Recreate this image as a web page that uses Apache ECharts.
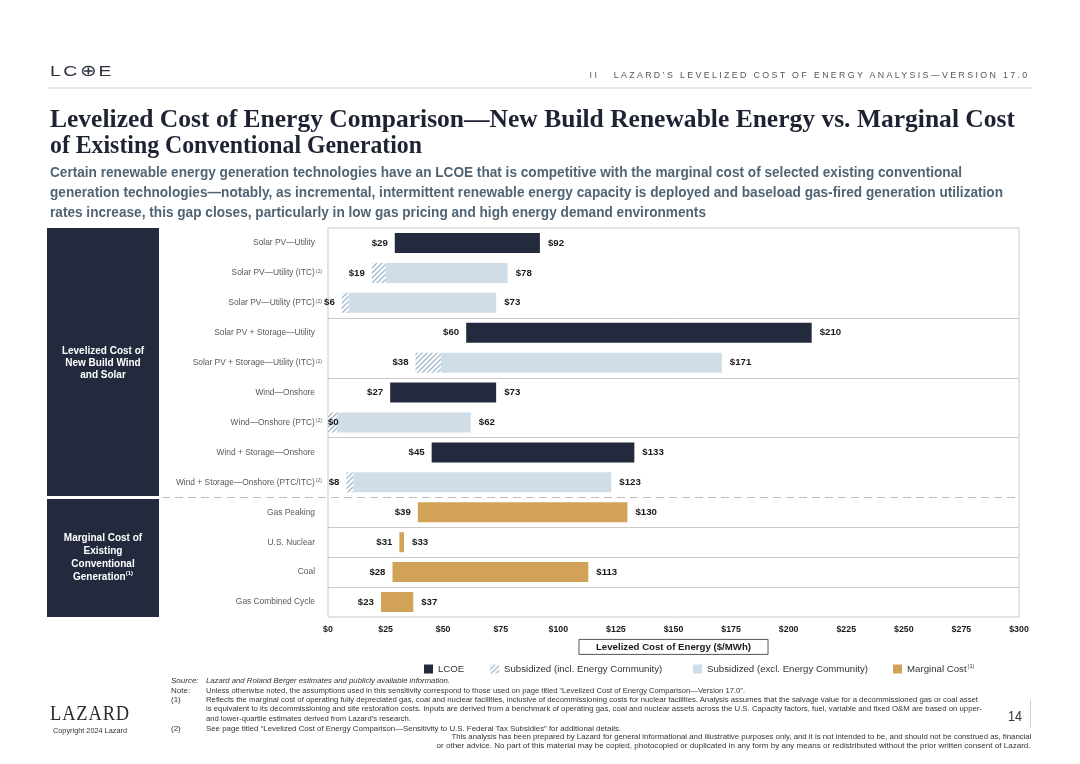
<!DOCTYPE html>
<html>
<head>
<meta charset="utf-8">
<script src="https://cdn.jsdelivr.net/npm/echarts@6.0.0/dist/echarts.min.js"></script>
<style>
  html, body { margin:0; padding:0; background:#fff; }
  body { width:1080px; height:764px; position:relative; overflow:hidden; }
  #chart { position:absolute; left:0; top:0; width:1080px; height:764px; }
  .t { position:absolute; white-space:nowrap; display:inline-block; line-height:1; transform-origin:left center; }
  .r { transform-origin:right center; }
  .sans { font-family:"Liberation Sans", Arial, sans-serif; }
  .serif { font-family:"Liberation Serif", "Times New Roman", serif; }
</style>
</head>
<body>
<div id="chart"></div>

<!-- header -->
<div class="t sans" data-w="64" data-b="76" data-f="15.5" style="left:50px;font-weight:300;letter-spacing:2px;color:#2d3240;">LC⊕E</div>
<div class="t sans r" data-w="440" data-b="78.5" data-f="9" style="right:50px;letter-spacing:2.4px;color:#555;">II&nbsp;&nbsp;&nbsp;LAZARD’S LEVELIZED COST OF ENERGY ANALYSIS—VERSION 17.0</div>
<div style="position:absolute;left:48px;top:87px;width:984px;height:2px;background:#e6e6e6;"></div>

<!-- title -->
<div class="t serif" data-w="965" data-b="128" data-f="26" style="left:50px;font-weight:bold;color:#1e2333;">Levelized Cost of Energy Comparison—New Build Renewable Energy vs. Marginal Cost</div>
<div class="t serif" data-w="372" data-b="154" data-f="26" style="left:50px;font-weight:bold;color:#1e2333;">of Existing Conventional Generation</div>

<!-- subtitle -->
<div class="t sans" data-w="912" data-b="177.3" data-f="14.8" style="left:50px;font-weight:bold;color:#506474;">Certain renewable energy generation technologies have an LCOE that is competitive with the marginal cost of selected existing conventional</div>
<div class="t sans" data-w="953" data-b="197.3" data-f="14.8" style="left:50px;font-weight:bold;color:#506474;">generation technologies—notably, as incremental, intermittent renewable energy capacity is deployed and baseload gas-fired generation utilization</div>
<div class="t sans" data-w="656" data-b="217.3" data-f="14.8" style="left:50px;font-weight:bold;color:#506474;">rates increase, this gap closes, particularly in low gas pricing and high energy demand environments</div>

<!-- footnotes -->
<div class="t sans" data-b="684" data-f="8" style="left:171px;font-style:italic;color:#333;">Source:</div>
<div class="t sans" data-w="244" data-b="684" data-f="8" style="left:206px;font-style:italic;color:#333;">Lazard and Roland Berger estimates and publicly available information.</div>
<div class="t sans" data-b="693.5" data-f="8" style="left:171px;color:#333;">Note:</div>
<div class="t sans" data-w="539" data-b="693.5" data-f="8" style="left:206px;color:#333;">Unless otherwise noted, the assumptions used in this sensitivity correspond to those used on page titled “Levelized Cost of Energy Comparison—Version 17.0”.</div>
<div class="t sans" data-b="702.5" data-f="8" style="left:171px;color:#333;">(1)</div>
<div class="t sans" data-w="772" data-b="702.5" data-f="8" style="left:206px;color:#333;">Reflects the marginal cost of operating fully depreciated gas, coal and nuclear facilities, inclusive of decommissioning costs for nuclear facilities. Analysis assumes that the salvage value for a decommissioned gas or coal asset</div>
<div class="t sans" data-w="776" data-b="712" data-f="8" style="left:206px;color:#333;">is equivalent to its decommissioning and site restoration costs. Inputs are derived from a benchmark of operating gas, coal and nuclear assets across the U.S. Capacity factors, fuel, variable and fixed O&amp;M are based on upper-</div>
<div class="t sans" data-w="205" data-b="721.5" data-f="8" style="left:206px;color:#333;">and lower-quartile estimates derived from Lazard’s research.</div>
<div class="t sans" data-b="731.5" data-f="8" style="left:171px;color:#333;">(2)</div>
<div class="t sans" data-w="415" data-b="731.5" data-f="8" style="left:206px;color:#333;">See page titled “Levelized Cost of Energy Comparison—Sensitivity to U.S. Federal Tax Subsidies” for additional details.</div>
<div class="t sans r" data-w="580" data-b="739.5" data-f="8" style="right:49px;color:#333;">This analysis has been prepared by Lazard for general informational and illustrative purposes only, and it is not intended to be, and should not be construed as, financial</div>
<div class="t sans r" data-w="594" data-b="749" data-f="8" style="right:49px;color:#333;">or other advice. No part of this material may be copied, photocopied or duplicated in any form by any means or redistributed without the prior written consent of Lazard.</div>

<!-- footer logo, page -->
<div class="t serif" data-w="80" data-b="720" data-f="22" style="left:50px;letter-spacing:1px;color:#2b2b2b;">LAZARD</div>
<div class="t sans" data-w="74" data-b="734" data-f="8" style="left:53px;color:#333;">Copyright 2024 Lazard</div>
<div class="t sans" data-w="14" data-b="721" data-f="14" style="left:1008px;color:#333;">14</div>
<div style="position:absolute;left:1030px;top:700px;width:1px;height:28px;background:#d0d0d0;"></div>

<script>
// ---------------- data ----------------
const categories = [
  'Solar PV—Utility',
  'Solar PV—Utility (ITC)',
  'Solar PV—Utility (PTC)',
  'Solar PV + Storage—Utility',
  'Solar PV + Storage—Utility (ITC)',
  'Wind—Onshore',
  'Wind—Onshore (PTC)',
  'Wind + Storage—Onshore',
  'Wind + Storage—Onshore (PTC/ITC)',
  'Gas Peaking',
  'U.S. Nuclear',
  'Coal',
  'Gas Combined Cycle'
];
const noteRefs = ['', '(2)', '(2)', '', '(2)', '', '(2)', '', '(2)', '', '', '', ''];
const rowKind = ['lcoe', 'sub', 'sub', 'lcoe', 'sub', 'lcoe', 'sub', 'lcoe', 'sub', 'mc', 'mc', 'mc', 'mc'];
// low end (LCOE low / subsidized incl. energy community low / marginal cost low)
const lowValues = [29, 19, 6, 60, 38, 27, 0, 45, 8, 39, 31, 28, 23];
// low end of subsidized (excl. energy community) range
const exclLowValues = [null, 25, 9, null, 49, null, 4, null, 11, null, null, null, null];
// high end
const highValues = [92, 78, 73, 210, 171, 73, 62, 133, 123, 130, 33, 113, 37];
const seriesNames = ['LCOE', 'Subsidized (incl. Energy Community)', 'Subsidized (excl. Energy Community)', 'Marginal Cost'];
const groupLabels = ['Levelized Cost of\nNew Build Wind\nand Solar', 'Marginal Cost of\nExisting\nConventional\n{g|Generation}{s|(1)}'];
const axisTitle = 'Levelized Cost of Energy ($/MWh)';
const xMin = 0, xMax = 300, xStep = 25;

(function () {
// ---------------- fonts ----------------
function hasFont(name) {
  const c = document.createElement('canvas').getContext('2d');
  const s = 'abcdefghijklmnopqrstuvwxyz0123456789$';
  c.font = '40px monospace';
  const a = c.measureText(s).width;
  c.font = '40px "' + name + '", monospace';
  return c.measureText(s).width !== a;
}
const NARROW = hasFont('Liberation Sans Narrow');
const NF = NARROW ? '"Liberation Sans Narrow", "Liberation Sans", Arial, sans-serif' : '"Liberation Sans", Arial, sans-serif';
const nk = NARROW ? 1 : 0.84;
const SF = '"Liberation Sans", Arial, sans-serif';

// ---------------- HTML text layout ----------------
document.querySelectorAll('.t').forEach(el => {
  const f = +el.dataset.f, b = +el.dataset.b;
  const serif = el.classList.contains('serif');
  el.style.fontSize = f + 'px';
  el.style.top = (b - (serif ? 0.8375 : 0.8465) * f) + 'px';
});
document.querySelectorAll('[data-w]').forEach(el => {
  const w = +el.dataset.w;
  const a = el.getBoundingClientRect().width;
  if (a > 0) el.style.transform = 'scaleX(' + (w / a) + ')';
});

// ---------------- derived series ----------------
const lcoeData = rowKind.map((k, i) => k === 'lcoe' ? highValues[i] - lowValues[i] : '-');
const hatchData = rowKind.map((k, i) => k === 'sub' ? exclLowValues[i] - lowValues[i] : '-');
const lightData = rowKind.map((k, i) => k === 'sub' ? highValues[i] - exclLowValues[i] : '-');
const mcData = rowKind.map((k, i) => k === 'mc' ? highValues[i] - lowValues[i] : '-');

// hatch pattern
const pc = document.createElement('canvas');
pc.width = 5; pc.height = 5;
const g = pc.getContext('2d');
g.fillStyle = '#ffffff'; g.fillRect(0, 0, 5, 5);
g.strokeStyle = '#a3b9cb'; g.lineWidth = 1.3;
g.beginPath();
g.moveTo(0, 5); g.lineTo(5, 0);
g.moveTo(-1, 1); g.lineTo(1, -1);
g.moveTo(4, 6); g.lineTo(6, 4);
g.stroke();
const hatchFill = { image: pc, repeat: 'repeat' };

const C_DARK = '#232a3e', C_LIGHT = '#cfdde8', C_GOLD = '#d1a257';

const valueLabel = { show: true, fontFamily: NF, fontWeight: 'bold', fontSize: 11.5 * nk, color: '#1a1a1a' };
const rightLabel = Object.assign({}, valueLabel, { position: 'right', distance: 8, formatter: p => '$' + highValues[p.dataIndex] });

const chart = echarts.init(document.getElementById('chart'), null, { renderer: 'canvas' });

const legendLeft = [419, 485, 688, 888];
const legendText = { fontFamily: NF, fontSize: 11.5 * nk, color: '#333',
  rich: { a: { fontFamily: NF, fontSize: 11.5 * nk, color: '#333' }, s: { fontFamily: NF, fontSize: 6.5 * nk, color: '#333', verticalAlign: 'top', padding: [0, 0, 0, 1] } } };

const option = {
  animation: false,
  grid: { left: 328, right: 61, top: 228, bottom: 147, show: true, borderColor: '#c9c9c9', borderWidth: 1, containLabel: false },
  xAxis: {
    type: 'value', min: xMin, max: xMax, interval: xStep,
    axisLine: { show: false }, axisTick: { show: false }, splitLine: { show: false },
    axisLabel: { formatter: v => '$' + v, fontFamily: NF, fontWeight: 'bold', fontSize: 10.5 * nk, color: '#1a1a1a', margin: 8 },
    name: axisTitle, nameLocation: 'middle', nameGap: 22,
    nameTextStyle: { fontFamily: NF, fontWeight: 'bold', fontSize: 11.5 * nk, color: '#1a1a1a', borderColor: '#555', borderWidth: 1, padding: [3, 17, 2, 17], verticalAlign: 'top' }
  },
  yAxis: {
    type: 'category', data: categories, inverse: true,
    axisLine: { show: false }, axisTick: { show: false }, splitLine: { show: false },
    axisLabel: {
      margin: 6,
      formatter: (v, i) => noteRefs[i] ? '{n|' + v + '}{s|' + noteRefs[i] + '}' : '{p|' + v + '}',
      rich: {
        n: { fontFamily: NF, fontSize: 10 * nk, color: '#595959' },
        p: { fontFamily: NF, fontSize: 10 * nk, color: '#595959', padding: [0, 7, 0, 0] },
        s: { fontFamily: NF, fontSize: 6 * nk, color: '#595959', verticalAlign: 'top', padding: [0, 0, 0, 1] }
      }
    }
  },
  legend: seriesNames.map((n, i) => ({
    data: [n], left: legendLeft[i], top: 659, itemWidth: 9, itemHeight: 9, icon: 'rect', itemGap: 0,
    selectedMode: false, textStyle: legendText,
    formatter: nm => nm === 'Marginal Cost' ? '{a|Marginal Cost}{s|(1)}' : nm
  })),
  series: [
    { name: '_base', type: 'bar', stack: 't', barWidth: 20, silent: true, legendHoverLink: false,
      itemStyle: { color: 'rgba(0,0,0,0)' }, emphasis: { disabled: true },
      label: Object.assign({}, valueLabel, { position: 'insideRight', distance: 7, formatter: p => '$' + lowValues[p.dataIndex] }),
      data: lowValues.map(v => v === 0 ? { value: v, label: { position: 'insideLeft', distance: 0 } } : v) },
    { name: seriesNames[0], type: 'bar', stack: 't', barWidth: 20, itemStyle: { color: C_DARK }, label: rightLabel, data: lcoeData },
    { name: seriesNames[1], type: 'bar', stack: 't', barWidth: 20, itemStyle: { color: hatchFill }, data: hatchData },
    { name: seriesNames[2], type: 'bar', stack: 't', barWidth: 20, itemStyle: { color: C_LIGHT }, label: rightLabel, data: lightData },
    { name: seriesNames[3], type: 'bar', stack: 't', barWidth: 20, itemStyle: { color: C_GOLD }, label: rightLabel, data: mcData }
  ]
};
chart.setOption(option);

// ---------------- group separators & side panels ----------------
const py = i => chart.convertToPixel({ yAxisIndex: 0 }, categories[i]);
const px = v => chart.convertToPixel({ xAxisIndex: 0 }, v);
const rowH = py(1) - py(0);
const topY = py(0) - rowH / 2, bottomY = py(categories.length - 1) + rowH / 2;
const bnd = i => Math.round((py(i - 1) + py(i)) / 2) + 0.5;
const x0 = px(xMin), x1 = px(xMax);
const solidAt = [3, 5, 7, 10, 11, 12];
const dashIdx = rowKind.indexOf('mc');
const dashY = bnd(dashIdx);
const graphics = [];
solidAt.forEach(i => graphics.push({ type: 'line', silent: true, shape: { x1: x0, y1: bnd(i), x2: x1, y2: bnd(i) }, style: { stroke: '#c9c9c9', lineWidth: 1 } }));
graphics.push({ type: 'line', silent: true, shape: { x1: 162, y1: dashY, x2: x1, y2: dashY }, style: { stroke: '#bdbdbd', lineWidth: 1, lineDash: [8, 5] } });
graphics.push({ type: 'rect', silent: true, shape: { x: 47, y: topY, width: 112, height: dashY - 1.5 - topY }, style: { fill: C_DARK } });
graphics.push({ type: 'rect', silent: true, shape: { x: 47, y: dashY + 1.5, width: 112, height: bottomY - dashY - 1.5 }, style: { fill: C_DARK } });
graphics.push({ type: 'text', silent: true, x: 103, y: (topY + dashY) / 2,
  style: { text: groupLabels[0], align: 'center', verticalAlign: 'middle', fill: '#fff', font: 'bold 10px ' + SF, lineHeight: 12 } });
graphics.push({ type: 'text', silent: true, x: 103, y: (dashY + bottomY) / 2,
  style: { text: groupLabels[1], align: 'center', verticalAlign: 'middle', fill: '#fff', font: 'bold 10px ' + SF, lineHeight: 13,
    rich: { g: { fill: '#fff', font: 'bold 10px ' + SF, lineHeight: 13 }, s: { fill: '#fff', font: 'bold 6px ' + SF, verticalAlign: 'top', lineHeight: 13 } } } });
chart.setOption({ graphic: graphics });
})();
</script>
</body>
</html>
